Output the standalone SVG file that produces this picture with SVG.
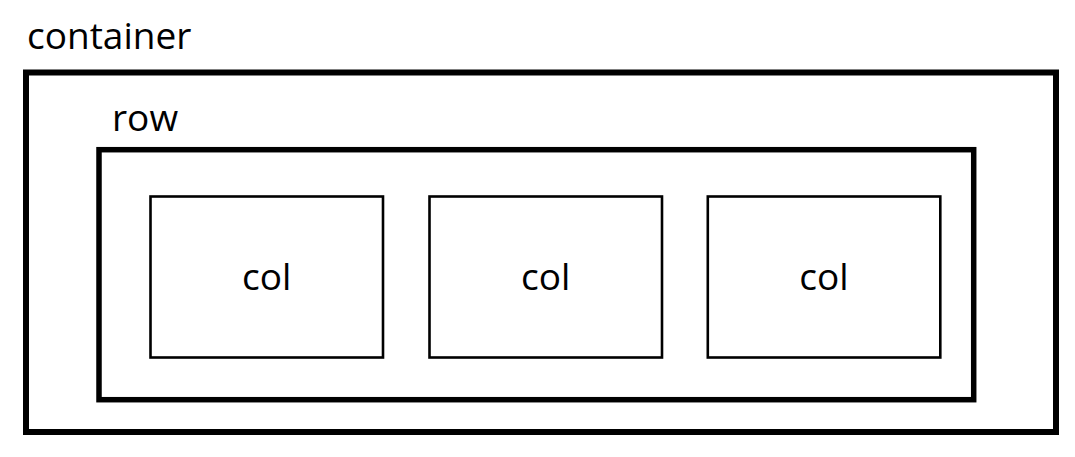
<svg xmlns="http://www.w3.org/2000/svg" width="1075" height="457" viewBox="0 0 1075 457">
<style>
text{font-family:"Open Sans","Noto Sans",sans-serif;font-size:37px;fill:#000}
.box{fill:none;stroke:#000}
.c{text-anchor:middle}
</style>
<rect width="1075" height="457" fill="#fff"/>
<g id="container">
<rect class="box" x="26" y="72.5" width="1030" height="359.5" stroke-width="6"/>
<text x="27" y="49">container</text>
</g>
<g id="row">
<rect class="box" x="99" y="149.7" width="874.7" height="250" stroke-width="5.5"/>
<text x="112" y="131">row</text>
</g>
<g id="col1">
<rect class="box" x="150.5" y="196.5" width="232.5" height="161" stroke-width="2.6"/>
<text class="c" x="266.7" y="290">col</text>
</g>
<g id="col2">
<rect class="box" x="429.5" y="196.5" width="232.5" height="161" stroke-width="2.6"/>
<text class="c" x="545.7" y="290">col</text>
</g>
<g id="col3">
<rect class="box" x="707.8" y="196.5" width="232.5" height="161" stroke-width="2.6"/>
<text class="c" x="824" y="290">col</text>
</g>
<g id="connectors"/>
</svg>
